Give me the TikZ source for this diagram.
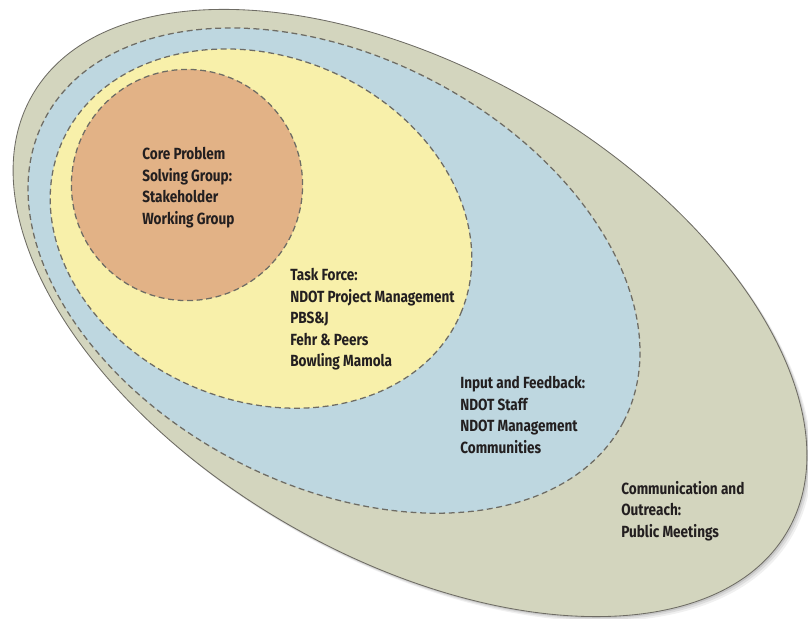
\documentclass[tikz,border=0pt]{standalone}
\usepackage{fontspec}
\setmainfont{Fira Sans}[FakeStretch=0.84]
\usepackage{tikz}

\definecolor{outreach}{RGB}{211,213,190}
\definecolor{feedback}{RGB}{190,215,224}
\definecolor{taskforce}{RGB}{248,240,170}
\definecolor{coregroup}{RGB}{226,178,134}
\definecolor{rim}{RGB}{110,108,100}
\definecolor{ink}{RGB}{35,31,32}

\begin{document}
\begin{tikzpicture}[
		zone/.style={fill=#1, draw=rim, line width=.9pt, dash pattern=on 4.2pt off 2.6pt},
		group/.style={anchor=north west, inner sep=0pt, align=left, text=ink,
			font=\fontsize{11.5}{15.3}\selectfont\bfseries}
	]
	\useasboundingbox (0, 0) rectangle (20.2, 15.475);
	% soft shadow under the outer ring
	\foreach \d/\o in {.12/.06, .08/.08, .04/.1}
		\fill[black, opacity=\o] (10.25+\d, 7.65-\d) ellipse [x radius=10.9, y radius=6.1, rotate=-30];
	% outer ring: communication and outreach
	\draw[fill=outreach, draw=rim, line width=.6pt] (10.25, 7.65) ellipse [x radius=10.9, y radius=6.1, rotate=-30];
	% input and feedback
	\draw[zone=feedback] (8.35, 8.71) ellipse [x radius=8.165, y radius=5.35, rotate=-27.6];
	% task force
	\draw[zone=taskforce] (6.525, 9.76) ellipse [x radius=5.425, y radius=4.3, rotate=-23];
	% core problem solving group
	\draw[zone=coregroup] (4.675, 10.85) circle (2.89);

	\node[group] (core) at (3.55, 11.8) {Core Problem\\Solving Group:\\Stakeholder\\Working Group};
	\node[group] (task) at (7.25, 8.775) {Task Force:\\NDOT Project Management\\PBS\&J\\Fehr \& Peers\\Bowling Mamola};
	\node[group] (input) at (11.5, 6.075) {Input and Feedback:\\NDOT Staff\\NDOT Management\\Communities};
	\node[group] (comm) at (15.525, 3.45) {Communication and\\Outreach:\\Public Meetings};
\end{tikzpicture}
\end{document}
